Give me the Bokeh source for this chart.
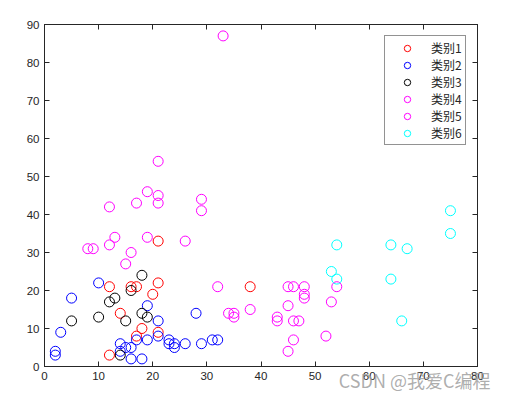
from bokeh.plotting import figure
from bokeh.models import Range1d, LinearAxis, FixedTicker, Legend, LegendItem, Title
from bokeh.embed import file_html
from bokeh.resources import INLINE

# data
cat1_x = [21, 12, 16, 17, 21, 20, 14, 18, 17, 21, 12, 38]
cat1_y = [33, 21, 21, 21, 22, 19, 14, 10, 8, 9, 3, 21]
cat2_x = [10, 5, 19, 28, 21, 3, 2, 2, 14, 15, 16, 17, 19, 21, 23, 23, 24, 24, 26, 29, 31, 32, 16, 18, 14]
cat2_y = [22, 18, 16, 14, 12, 9, 4, 3, 6, 5, 5, 7, 7, 8, 7, 6, 6, 5, 6, 6, 7, 7, 2, 2, 4]
cat3_x = [18, 16, 13, 12, 5, 10, 15, 18, 19, 14]
cat3_y = [24, 20, 18, 17, 12, 13, 12, 14, 13, 3]
cat4_x = [19, 21, 21, 17, 12, 29, 29, 19, 13, 12, 26, 8, 9, 16, 15, 21, 33]
cat4_y = [46, 45, 43, 43, 42, 44, 41, 34, 34, 32, 33, 31, 31, 30, 27, 54, 87]
cat5_x = [32, 34, 35, 35, 38, 43, 43, 45, 46, 48, 48, 48, 45, 46, 47, 46, 45, 52, 53, 54]
cat5_y = [21, 14, 14, 13, 15, 13, 12, 21, 21, 21, 19, 18, 16, 12, 12, 7, 4, 8, 17, 21]
cat6_x = [54, 53, 54, 75, 75, 64, 67, 64, 66]
cat6_y = [32, 25, 23, 41, 35, 32, 31, 23, 12]

labels = ["类别1", "类别2", "类别3", "类别4", "类别5", "类别6"]
colors = ["#ff0000", "#0000ff", "#000000", "#ff00ff", "#ff00ff", "#00ffff"]
ticks_x = [0, 10, 20, 30, 40, 50, 60, 70, 80]
ticks_y = [0, 10, 20, 30, 40, 50, 60, 70, 80, 90]
watermark = "CSDN @我爱C编程"

AX = "#262626"
TICK_FONT = "Liberation Sans"

p = figure(frame_width=433, frame_height=342, output_backend="svg", toolbar_location=None,
           x_range=Range1d(0, 80), y_range=Range1d(0, 90),
           min_border_left=44, min_border_top=24, min_border_right=14, min_border_bottom=30,
           x_axis_location=None, y_axis_location=None)
p.xgrid.visible = False
p.ygrid.visible = False
p.outline_line_color = AX
p.outline_line_width = 1
p.background_fill_color = "white"
p.border_fill_color = "white"

def style(ax, ticks, labels_on):
    ax.ticker = FixedTicker(ticks=ticks)
    ax.axis_line_color = AX
    ax.major_tick_line_color = AX
    ax.major_tick_in = 5
    ax.major_tick_out = 0
    ax.minor_tick_line_color = None
    ax.major_label_text_font = TICK_FONT
    ax.major_label_text_font_size = "11.5px"
    ax.major_label_text_color = AX
    ax.major_label_standoff = 5
    if not labels_on:
        ax.major_label_text_font_size = "0px"
        ax.major_label_text_alpha = 0

xb = LinearAxis(); style(xb, ticks_x, True)
xt = LinearAxis(); style(xt, ticks_x, False)
yl = LinearAxis(); style(yl, ticks_y, True)
yr = LinearAxis(); style(yr, ticks_y, False)
p.add_layout(xb, "below")
p.add_layout(xt, "above")
p.add_layout(yl, "left")
p.add_layout(yr, "right")

wm = Title(text=watermark, align="right", vertical_align="top", offset=-13, standoff=-32,
           text_font="Noto Sans CJK SC", text_font_size="18px", text_font_style="normal",
           text_color="#a0a0a0", text_alpha=0.85)
p.add_layout(wm, "below")

xs = [cat1_x, cat2_x, cat3_x, cat4_x, cat5_x, cat6_x]
ys = [cat1_y, cat2_y, cat3_y, cat4_y, cat5_y, cat6_y]
items = []
for x, y, c, lab in zip(xs, ys, colors, labels):
    r = p.scatter(x, y, marker="circle", size=10, fill_color=None, line_color=c, line_width=1)
    items.append(LegendItem(label=lab, renderers=[r]))

leg = Legend(items=items, location="top_right")
leg.label_text_font = "Noto Sans CJK SC"
leg.label_text_font_size = "12px"
leg.label_text_color = AX
leg.label_height = 16
leg.glyph_height = 16
leg.glyph_width = 38
leg.label_width = 31
leg.spacing = -2
leg.padding = 3
leg.margin = 11
leg.label_standoff = 5
leg.border_line_color = AX
leg.border_line_width = 1
leg.background_fill_color = "white"
leg.background_fill_alpha = 1
p.add_layout(leg)

open("out.html", "w").write(file_html(p, INLINE))
